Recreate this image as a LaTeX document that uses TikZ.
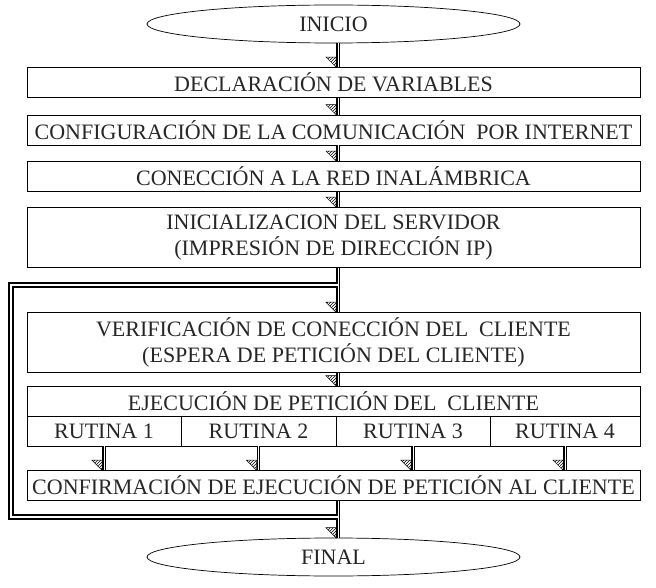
\documentclass[tikz,border=0pt]{standalone}
\usepackage{fontspec}
\setmainfont{Liberation Serif}
\usetikzlibrary{shapes.geometric,patterns,decorations.markings}
\begin{document}
\begin{tikzpicture}[x=1pt,y=-1pt,
  every node/.style={font=\fontsize{22}{26}\selectfont, inner sep=0pt, text=black!85},
  boxa/.style={draw, line width=0.7pt, minimum width=613pt, minimum height=30pt, align=center},
  boxb/.style={draw, line width=0.7pt, minimum width=613pt, minimum height=60pt, align=center},
  cell/.style={draw, line width=0.7pt, minimum height=30pt},
  term/.style={draw, ellipse, line width=0.7pt, minimum width=373pt, minimum height=38pt},
  flow/.style={double, double distance=0.8pt, line width=1.5pt,
    postaction={decorate, decoration={markings, mark=at position 1 with {
      \draw[line width=0.5pt, pattern=north east lines] (0pt,-2pt) -- (-10pt,-2pt) -- (-10pt,-12pt) -- cycle;}}}},
  loopline/.style={double, double distance=1.6pt, line width=2.2pt}
]
\useasboundingbox (0,0) rectangle (656,588);
\node[term] (ini) at (333.5,24) {INICIO};
\node[boxa] (dec) at (333.5,82.5) {DECLARACIÓN DE VARIABLES};
\node[boxa] (conf) at (333.5,130) {CONFIGURACIÓN DE LA COMUNICACIÓN\ \ POR INTERNET};
\node[boxa] (red) at (333.5,176.5) {CONECCIÓN A LA RED INALÁMBRICA};
\node[boxb] (serv) at (333.5,237.5) {INICIALIZACION DEL SERVIDOR\\(IMPRESIÓN DE DIRECCIÓN IP)};
\node[boxb] (ver) at (333.5,342.5) {VERIFICACIÓN DE CONECCIÓN DEL\ \ CLIENTE\\(ESPERA DE PETICIÓN DEL CLIENTE)};
\node[boxa] (eje) at (333.5,401) {EJECUCIÓN DE PETICIÓN DEL\ \ CLIENTE};
\node[cell, minimum width=154pt] (r1) at (104,431) {RUTINA 1};
\node[cell, minimum width=155pt] (r2) at (258.5,431) {RUTINA 2};
\node[cell, minimum width=154pt] (r3) at (413,431) {RUTINA 3};
\node[cell, minimum width=150pt] (r4) at (565,431) {RUTINA 4};
\node[boxa] (cnf) at (333.5,485.5) {CONFIRMACIÓN DE EJECUCIÓN DE PETICIÓN AL CLIENTE};
\node[term] (fin) at (333.5,557) {FINAL};

\coordinate (j1) at (338,285);
\coordinate (j2) at (338,517);
\coordinate (lt) at (11,285);
\coordinate (lb) at (11,517);

\draw[flow] (ini.south -| j1) -- (dec.north -| j1);
\draw[flow] (dec.south -| j1) -- (conf.north -| j1);
\draw[flow] (conf.south -| j1) -- (red.north -| j1);
\draw[flow] (red.south -| j1) -- (serv.north -| j1);
\draw[flow] (serv.south -| j1) -- (ver.north -| j1);
\draw[flow] (ver.south -| j1) -- (eje.north -| j1);
\draw[flow] (r1.south) -- (r1.south |- cnf.north);
\draw[flow] (r2.south) -- (r2.south |- cnf.north);
\draw[flow] (r3.south) -- (r3.south |- cnf.north);
\draw[flow] (r4.south) -- (r4.south |- cnf.north);
\draw[flow] (cnf.south -| j1) -- (fin.north -| j1);
\draw[loopline] (j2) -- (lb) -- (lt) -- (j1);
\end{tikzpicture}
\end{document}
